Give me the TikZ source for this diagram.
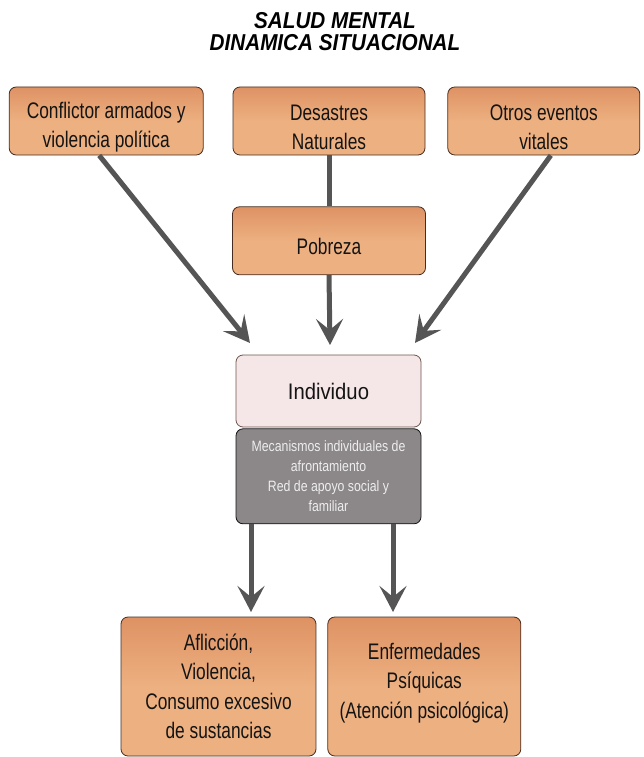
\documentclass[tikz,border=0pt]{standalone}
\usepackage{fontspec}
\usepackage{tikz}
\usetikzlibrary{arrows.meta, positioning, calc}
\newfontfamily\boxfont[FakeStretch=0.77]{Liberation Sans}
\newfontfamily\plainfont[FakeStretch=0.9]{Liberation Sans}
\newfontfamily\copefont[FakeStretch=0.82]{Liberation Sans}
\newfontfamily\titlefont[FakeStretch=0.9]{Liberation Sans}
% an empty first line that pushes the text of a box a little down
\newcommand\dropline{\mbox{}\\[-1pt]}
\definecolor{smInk}{RGB}{20,20,20}
\definecolor{smLine}{RGB}{85,85,85}
\definecolor{smOrange}{RGB}{237,176,128}
\definecolor{smOrangeTop}{RGB}{222,146,100}
\definecolor{smOrangeEdge}{RGB}{72,44,32}
\definecolor{smPink}{RGB}{245,230,232}
\definecolor{smGrey}{RGB}{140,135,137}
\definecolor{smGreyText}{RGB}{238,238,238}
\tikzset{
  % generic rounded box; the colour comes from one of the fill styles below
  box/.style={
    draw, rounded corners=7pt, line width=0.8pt,
    align=center, inner sep=2pt, text=smInk
  },
  orange/.style={box, top color=smOrangeTop, bottom color=smOrange,
                 middle color=smOrange, draw=smOrangeEdge,
                 font=\boxfont\fontsize{22.5}{29.5}\selectfont},
  pink/.style={box, fill=smPink, draw=smOrangeEdge!80,
               font=\plainfont\fontsize{22.5}{25}\selectfont},
  coping/.style={box, fill=smGrey, draw=smInk, text=smGreyText,
                 font=\copefont\fontsize{15}{20}\selectfont},
  % thick grey arrows
  flow/.style={-{Stealth[length=26pt,width=27pt,inset=11pt]},
               draw=smLine, line width=5pt},
  link/.style={draw=smLine, line width=5pt},
  heading/.style={font=\titlefont\bfseries\itshape\fontsize{23}{22}\selectfont,
                  align=center, text=black, inner sep=0pt},
}
\begin{document}
\begin{tikzpicture}[x=1pt, y=-1pt]
\useasboundingbox (0,0) rectangle (644,757);

% ============================ title ========================================
\node[heading] (title) at (335,32) {SALUD MENTAL\\DINAMICA SITUACIONAL};

% ========================= causes (top row) ================================
\node[orange, minimum width=192pt, minimum height=68pt] (desa) at (329,121)
      {\dropline Desastres\\Naturales};
\node[orange, minimum width=194pt, minimum height=68pt, left=29pt of desa] (conf)
      {\dropline Conflictor armados y\\violencia política};
\node[orange, minimum width=192pt, minimum height=68pt, right=22pt of desa] (otros)
      {\dropline Otros eventos\\vitales};
\node[orange, minimum width=193pt, minimum height=68pt, below=51pt of desa] (pobr)
      {\dropline Pobreza};

% ============================ individual ===================================
\node[pink, minimum width=185pt, minimum height=72pt] (indiv) at (328.5,391)
      {Individuo};
\node[coping, minimum width=185pt, minimum height=95pt, below=1pt of indiv] (meca)
      {Mecanismos individuales de\\afrontamiento\\Red de apoyo social y\\familiar};

% ============================= effects =====================================
\node[orange, minimum width=195pt, minimum height=139pt] (aflic) at (218.5,686.5)
      {Aflicción,\\Violencia,\\Consumo excesivo\\de sustancias};
\node[orange, minimum width=193pt, minimum height=139pt, right=11pt of aflic] (enfer)
      {Enfermedades\\Psíquicas\\(Atención psicológica)\\[-18pt]\mbox{}};

% ============================ connectors ===================================
\coordinate (tipL) at (250,343);
\coordinate (tipM) at (330,345);
\coordinate (tipR) at (415,343);
\coordinate (tipA) at (251,612);
\coordinate (tipB) at (393,612);

\draw[link] (desa.south) -- (pobr.north);
\draw[flow] ([xshift=-7pt]conf.south) -- (tipL);
\draw[flow] (pobr.south) -- (tipM);
\draw[flow] ([xshift=7pt]otros.south) -- (tipR);

\draw[flow] (meca.south -| tipA) -- (tipA);
\draw[flow] (meca.south -| tipB) -- (tipB);

\end{tikzpicture}
\end{document}
